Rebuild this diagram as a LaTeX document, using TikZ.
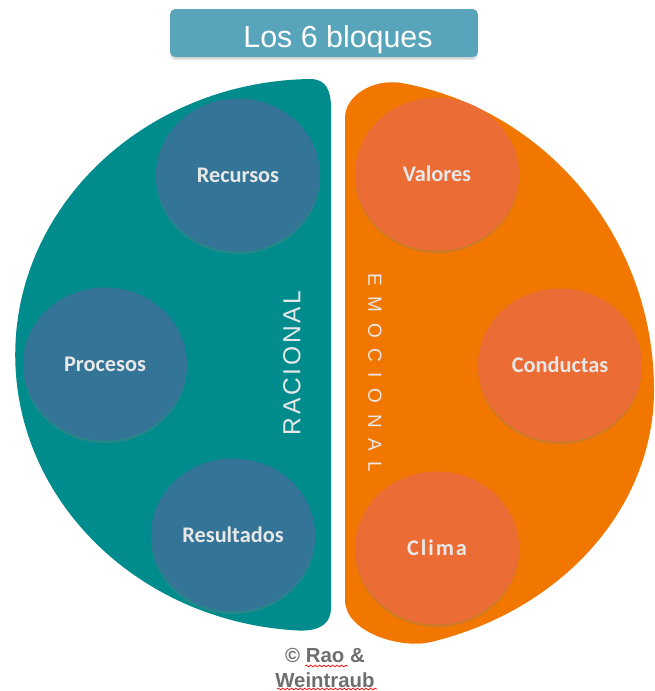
\documentclass[tikz,border=0pt]{standalone}
\usepackage{fontspec}
\setmainfont{Liberation Sans}
\newfontfamily\carlito{Carlito}
\newfontfamily\racfont[LetterSpace=11]{Liberation Sans}
\newfontfamily\emofont[LetterSpace=56]{Liberation Sans}
\usetikzlibrary{shapes.geometric,shadows,decorations.pathmorphing}

\definecolor{tealbg}{RGB}{0,139,141}
\definecolor{bluecirc}{RGB}{52,117,151}
\definecolor{orangebg}{RGB}{241,119,0}
\definecolor{orangecirc}{RGB}{236,108,54}
\definecolor{titlebox}{RGB}{88,164,186}
\definecolor{labelgray}{RGB}{232,232,232}
\definecolor{copygray}{RGB}{110,110,110}

\tikzset{
  bloque/.style={ellipse, minimum width=3.28cm, minimum height=3.06cm, inner sep=0pt,
    text=labelgray, font=\carlito\bfseries\fontsize{12.7}{15}\selectfont,
    drop shadow={opacity=0.3, shadow xshift=0pt, shadow yshift=-1.5pt}},
  racional/.style={bloque, fill=bluecirc},
  emocional/.style={bloque, fill=orangecirc},
  spell/.style={red, line width=0.4pt, decorate,
    decoration={snake, amplitude=0.5pt, segment length=2.5pt}}
}

\begin{document}
\begin{tikzpicture}[x=0.02cm, y=-0.02cm]
\useasboundingbox (0,0) rectangle (654,691);

% the two halves
\fill[tealbg] (331,608) -- (331,108) .. controls (331,90) and (326,79) .. (310,79)
  arc[start angle=-91, end angle=-267, x radius=300, y radius=276]
  .. controls (322,631) and (331,622) .. (331,608) -- cycle;
\fill[orangebg] (345,600) -- (345,118) .. controls (345,96) and (372,79) .. (400,82.7)
  arc[start angle=-80.06, end angle=0, x radius=307, y radius=312]
  arc[start angle=0, end angle=74.3, x radius=307, y radius=262]
  .. controls (400,649) and (345,632) .. (345,600) -- cycle;

\node[fill=titlebox, rounded corners=3pt, minimum width=6.16cm, minimum height=0.96cm,
  drop shadow={opacity=0.3, shadow xshift=0pt, shadow yshift=-1.5pt}]
  (titulo) at (324,33) {};
\node[anchor=base, text=white, font=\fontsize{17.3}{20}\selectfont]
  (titulotexto) at (338,47) {Los 6 bloques};

\node[racional] (recursos) at (238,175) {Recursos};
\node[racional] (procesos) at (105,364) {Procesos};
\node[racional] (resultados) at (233,535) {Resultados};
\node[emocional] (valores) at (437,174) {Valores};
\node[emocional] (conductas) at (560,365) {Conductas};
\node[emocional] (clima) at (437,548) {\addfontfeature{LetterSpace=9}Clima};

\node[rotate=90, text=labelgray, font=\racfont\fontsize{14}{16}\selectfont]
  (racional) at (292,363) {RACIONAL};
\node[rotate=-90, text=labelgray, font=\emofont\fontsize{10.8}{12}\selectfont]
  (emocional) at (375,373) {EMOCIONAL};

\node[align=center, text=copygray, font=\bfseries\fontsize{11.6}{14.2}\selectfont]
  (copy) at (325,668) {© Rao \&\\Weintraub};
\draw[spell] (305,666) -- (348,666);
\draw[spell] (277,689) -- (377,689);
\end{tikzpicture}
\end{document}
